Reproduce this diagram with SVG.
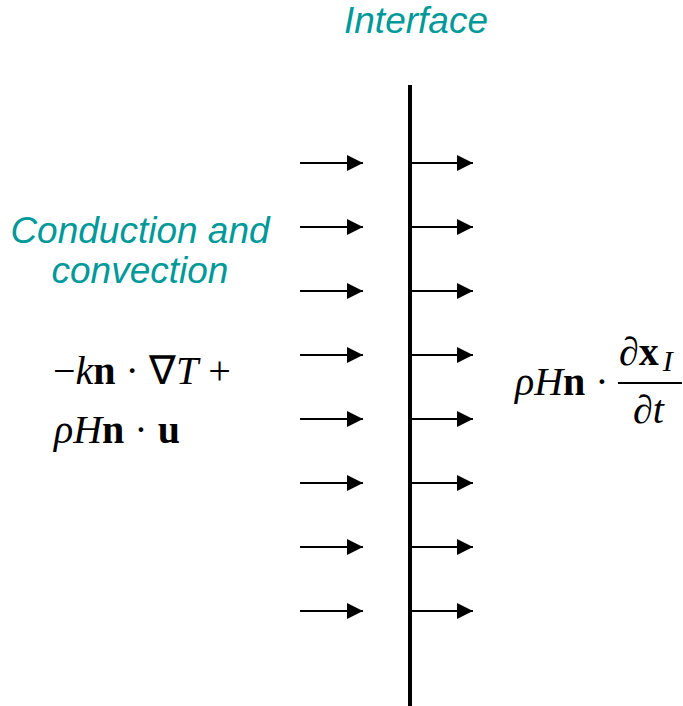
<svg xmlns="http://www.w3.org/2000/svg" width="683" height="706" viewBox="0 0 683 706">
<defs>
<style>
.lbl{font-family:"Liberation Sans",Arial,sans-serif;font-style:italic;font-size:37px;fill:#009999}
.m{font-family:"Liberation Serif","Times New Roman",serif;font-size:40px;fill:#000}
.i{font-style:italic}
.b{font-weight:bold}
.ln{stroke:#000;stroke-width:2;fill:none}
</style>
<marker id="ah" markerWidth="16" markerHeight="16" viewBox="0 0 16 16" refX="16" refY="8" orient="auto" markerUnits="userSpaceOnUse">
<path d="M0,0 L16,8 L0,16 Z" fill="#000"/>
</marker>
</defs>
<rect width="683" height="706" fill="#fff"/>
<g id="interface">
<line x1="410" y1="85" x2="410" y2="706" stroke="#000" stroke-width="4"/>
<text class="lbl" x="416" y="33" text-anchor="middle">Interface</text>
</g>
<g id="connectors">
<g class="ln" marker-end="url(#ah)">
<line x1="300" y1="163" x2="363" y2="163"/>
<line x1="300" y1="227" x2="363" y2="227"/>
<line x1="300" y1="291" x2="363" y2="291"/>
<line x1="300" y1="355" x2="363" y2="355"/>
<line x1="300" y1="419" x2="363" y2="419"/>
<line x1="300" y1="483" x2="363" y2="483"/>
<line x1="300" y1="547" x2="363" y2="547"/>
<line x1="300" y1="611" x2="363" y2="611"/>
<line x1="412" y1="163" x2="473" y2="163"/>
<line x1="412" y1="227" x2="473" y2="227"/>
<line x1="412" y1="291" x2="473" y2="291"/>
<line x1="412" y1="355" x2="473" y2="355"/>
<line x1="412" y1="419" x2="473" y2="419"/>
<line x1="412" y1="483" x2="473" y2="483"/>
<line x1="412" y1="547" x2="473" y2="547"/>
<line x1="412" y1="611" x2="473" y2="611"/>
</g>
</g>
<g id="conduction">
<text class="lbl" x="140" y="243" text-anchor="middle">Conduction and</text>
<text class="lbl" x="140" y="283" text-anchor="middle">convection</text>
<text class="m" x="53" y="384">−<tspan class="i">k</tspan><tspan class="b">n</tspan> · ∇<tspan class="i">T</tspan> +</text>
<text class="m" x="54" y="443"><tspan class="i">ρH</tspan><tspan class="b">n</tspan> · <tspan class="b">u</tspan></text>
</g>
<g id="interface-flux">
<text class="m" x="515" y="395"><tspan class="i">ρH</tspan><tspan class="b">n</tspan> ·</text>
<text class="m" x="619" y="365"><tspan class="i">∂</tspan><tspan class="b">x</tspan><tspan class="i" font-size="30" dx="4" dy="6">I</tspan></text>
<line x1="618" y1="383" x2="682" y2="383" stroke="#000" stroke-width="2"/>
<text class="m" x="633" y="423"><tspan class="i">∂t</tspan></text>
</g>
</svg>
